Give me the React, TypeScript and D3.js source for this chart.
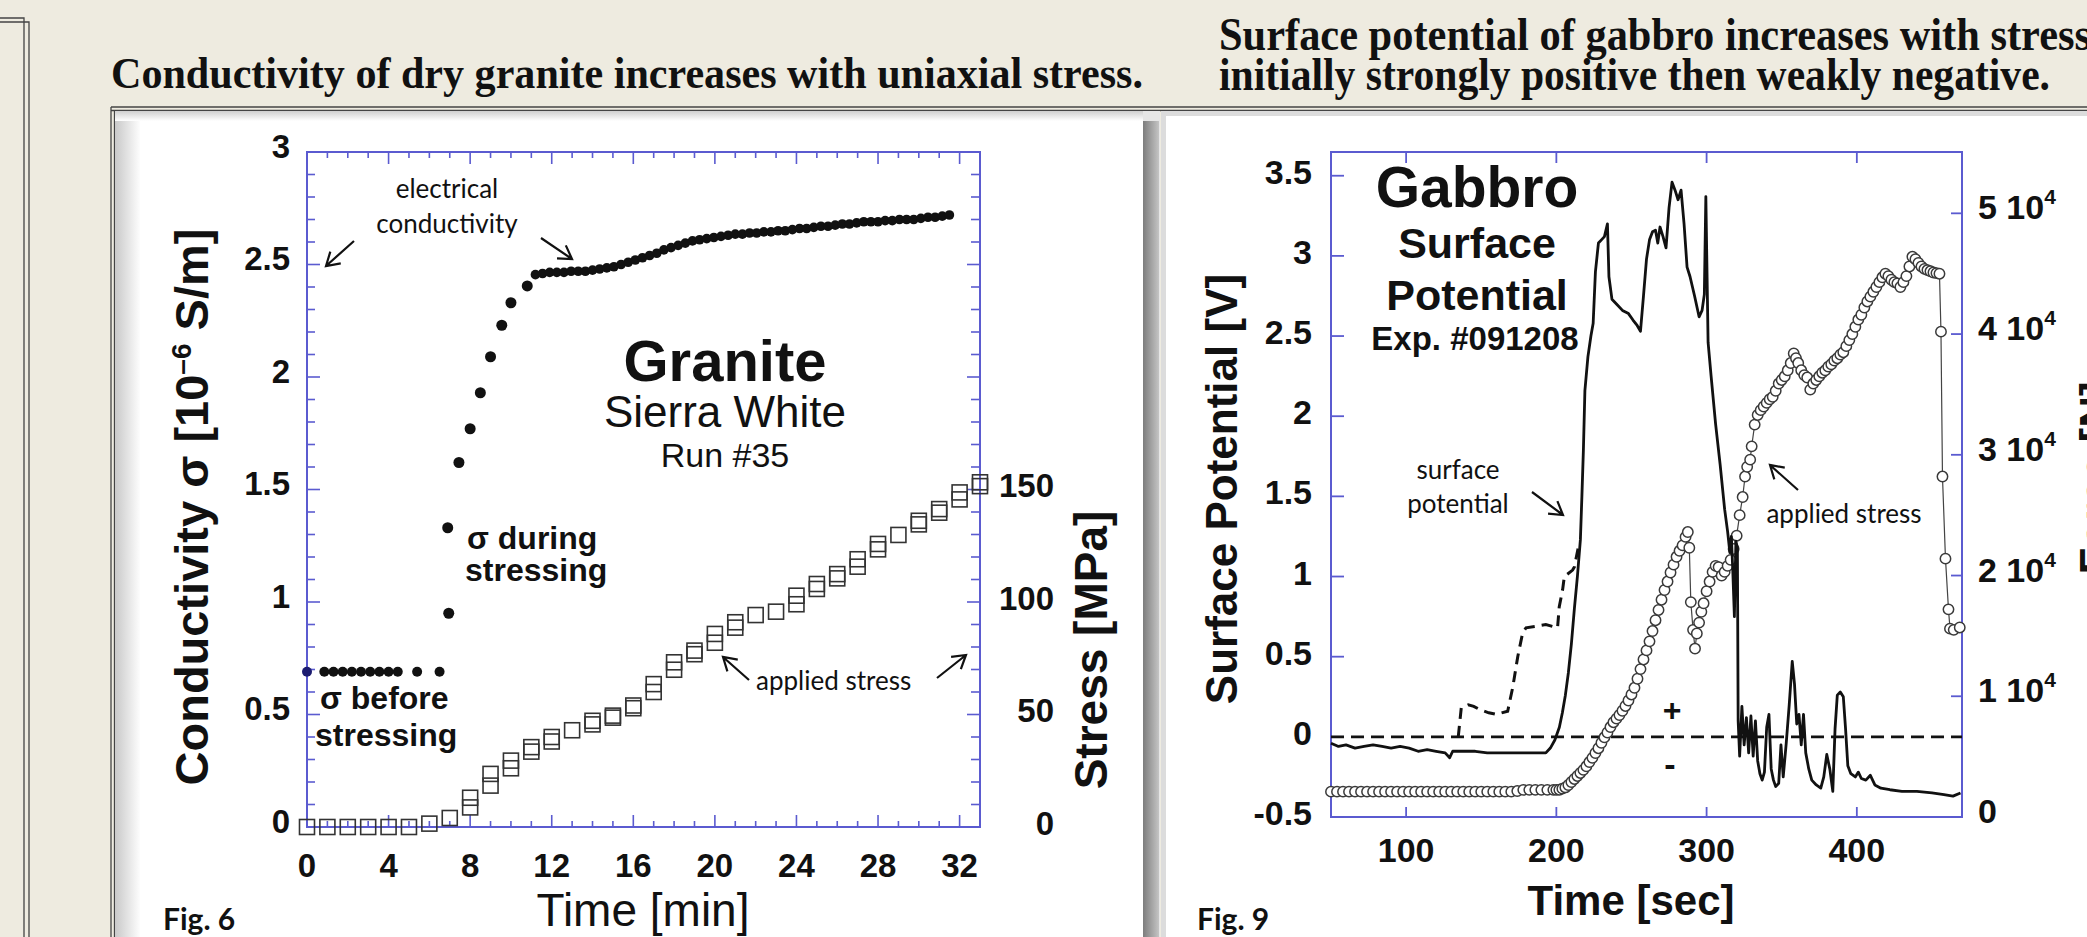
import * as d3 from 'd3';
import React from 'react';

// ---------- Fig. 6 : granite (time in min, sigma in 1e-6 S/m, stress in MPa) ----------
const sigmaBefore: [number, number][] = [
  [0, 0.69], [0.85, 0.69], [1.3, 0.69], [1.75, 0.69], [2.2, 0.69], [2.65, 0.69],
  [3.1, 0.69], [3.55, 0.69], [4.0, 0.69], [4.45, 0.69], [5.4, 0.69], [6.5, 0.69],
];
const sigmaRise: [number, number][] = [
  [6.95, 0.95], [6.9, 1.33], [7.45, 1.62], [8.0, 1.77], [8.5, 1.93], [9.0, 2.09],
  [9.55, 2.23], [10.0, 2.33], [10.8, 2.405],
];
const sigmaPlateau: [number, number][] = [
  [11.2, 2.455], [11.55, 2.46], [11.9, 2.465], [12.25, 2.465], [12.6, 2.465], [12.95, 2.47],
  [13.3, 2.47], [13.65, 2.47], [14.0, 2.475], [14.35, 2.48], [14.7, 2.485], [15.05, 2.49],
  [15.4, 2.5], [15.75, 2.51], [16.1, 2.52], [16.45, 2.53], [16.8, 2.54], [17.15, 2.55],
  [17.5, 2.565], [17.85, 2.575], [18.2, 2.585], [18.55, 2.595], [18.9, 2.605], [19.25, 2.61],
  [19.6, 2.615], [19.95, 2.62], [20.3, 2.625], [20.65, 2.63], [21.0, 2.635], [21.35, 2.635],
  [21.7, 2.64], [22.05, 2.64], [22.4, 2.645], [22.75, 2.645], [23.1, 2.65], [23.45, 2.65],
  [23.8, 2.655], [24.15, 2.66], [24.5, 2.66], [24.85, 2.665], [25.2, 2.67], [25.55, 2.67],
  [25.9, 2.675], [26.25, 2.68], [26.6, 2.68], [26.95, 2.685], [27.3, 2.69], [27.65, 2.69],
  [28.0, 2.69], [28.35, 2.695], [28.7, 2.695], [29.05, 2.7], [29.4, 2.7], [29.75, 2.7],
  [30.1, 2.705], [30.45, 2.71], [30.8, 2.71], [31.15, 2.715], [31.5, 2.72],
];
const stressSquares: [number, number][] = [
  [0, 0], [1, 0], [2, 0], [3, 0], [4, 0], [5, 0], [6, 1.5], [7, 4],
  [8, 13], [8, 8.7], [9, 23.6], [9, 18.4], [10, 29.5], [10, 26.1], [11, 35.5], [11, 33.5],
  [12, 40], [12, 38], [13, 43], [14, 47.2], [14, 45.6], [15, 49.5], [15, 48.6],
  [16, 54], [16, 52.8], [17, 63.5], [17, 60], [18, 73.2], [18, 69.9], [19, 78.4], [19, 76.8],
  [20, 85.8], [20, 81.9], [21, 91], [21, 88.6], [22, 94.2], [23, 95.7], [24, 102.8], [24, 99],
  [25, 108], [25, 105.8], [26, 112.4], [26, 110.5], [27, 119], [27, 115.7], [28, 125.8], [28, 123.4],
  [29, 129.8], [30, 136.1], [30, 134.5], [31, 141.3], [31, 139.7], [32, 148.7], [32, 145.6],
  [33, 153.2], [33, 151.5],
];
const sigmaTicks = [0, 0.5, 1, 1.5, 2, 2.5, 3];
const minTicks = [0, 4, 8, 12, 16, 20, 24, 28, 32];
const mpaTicks = [0, 50, 100, 150];

// ---------- Fig. 9 : gabbro (time in s, potential in V, load) ----------
const potSolid: [number, number][] = [
  [50, -0.04], [55, -0.06], [60, -0.05], [66, -0.07], [72, -0.06], [78, -0.05], [84, -0.06],
  [90, -0.07], [96, -0.06], [102, -0.07], [108, -0.09], [114, -0.08], [120, -0.09], [126, -0.1],
  [129, -0.13], [131, -0.09], [138, -0.09], [146, -0.09], [154, -0.1], [162, -0.1], [170, -0.1],
  [178, -0.1], [186, -0.1], [193, -0.1], [196, -0.07], [199, -0.02], [202, 0.06], [204, 0.15],
  [206, 0.26], [208, 0.4], [210, 0.58], [212, 0.8], [214, 1.0], [216, 1.23], [217, 1.5],
  [218, 1.79], [219, 2.16], [221, 2.37], [223, 2.5], [224.5, 2.58], [226, 2.9], [228, 3.08],
  [230, 3.1], [232, 3.12], [234, 3.2], [235, 2.87], [237, 2.73], [240, 2.7], [244, 2.66],
  [248, 2.64], [251, 2.6], [253.5, 2.57], [256, 2.53], [258, 2.75], [260, 2.98], [262, 3.1],
  [264, 3.15], [266, 3.16], [267.5, 3.08], [269, 3.18], [271, 3.12], [273, 3.05], [275, 3.3],
  [277, 3.46], [279, 3.41], [281, 3.35], [283, 3.41], [285, 3.2], [287, 2.93], [289, 2.87],
  [292, 2.75], [295, 2.62], [297, 2.66], [298.5, 2.76], [299.5, 3.37], [301, 2.46], [303, 2.25],
  [306, 1.95], [309, 1.7], [312, 1.42], [314, 1.28], [315.5, 1.15], [316.5, 1.25], [317.5, 1.02],
  [318.5, 0.75], [319.5, 1.22], [320.5, 1.18], [321, 0.1], [322, -0.12], [323.5, 0.19],
  [325, -0.05], [326.5, 0.12], [328, -0.1], [329.5, 0.13], [331, -0.12], [332.5, 0.1],
  [334, -0.15], [335.5, -0.23], [337, -0.27], [338.5, -0.22], [340, 0.06], [341.5, 0.14],
  [343, -0.2], [344.5, -0.27], [346, -0.31], [348, -0.29], [349.5, -0.05], [351, -0.25],
  [353, -0.04], [355, 0.2], [357, 0.47], [358.5, 0.33], [360, 0.08], [361.5, 0.14], [363, -0.05],
  [364.5, 0.14], [366, -0.1], [368, -0.2], [370, -0.27], [373, -0.3], [376, -0.32], [378, -0.25],
  [380, -0.11], [382, -0.2], [384, -0.34], [385.5, 0.05], [387, 0.26], [389, 0.28], [391, 0.25],
  [392.5, 0.05], [394, -0.18], [396, -0.23], [399, -0.25], [401, -0.22], [403, -0.26],
  [406, -0.27], [409, -0.24], [412, -0.3], [416, -0.32], [422, -0.33], [430, -0.34],
  [440, -0.34], [450, -0.35], [458, -0.36], [464, -0.37], [469, -0.35],
];
const potDashed: [number, number][] = [
  [134.7, 0.0], [136.7, 0.18], [141.4, 0.2], [145, 0.19], [149, 0.17], [155, 0.15], [160, 0.14],
  [167.6, 0.16], [171, 0.31], [174.3, 0.5], [177.6, 0.65], [179.8, 0.68], [186.5, 0.69],
  [193, 0.7], [200.8, 0.68], [201.9, 0.81], [204.2, 0.92], [205.3, 1.0], [210.8, 1.04],
  [212, 1.06], [215, 1.2],
];
const loadCircles: [number, number][] = [
  [50, 2100], [54, 2100], [58, 2100], [62, 2100], [66, 2100], [70, 2100], [74, 2100], [78, 2100],
  [82, 2100], [86, 2100], [90, 2100], [94, 2100], [98, 2100], [102, 2100], [106, 2100],
  [110, 2100], [114, 2100], [118, 2100], [122, 2100], [126, 2100], [130, 2100], [134, 2100],
  [138, 2100], [142, 2100], [146, 2100], [150, 2100], [154, 2100], [158, 2100], [162, 2100],
  [166, 2100], [170, 2100], [174, 2150], [178, 2250], [182, 2250], [186, 2250], [190, 2250],
  [194, 2250], [198, 2250], [200, 2250], [202, 2260], [204, 2350], [206, 2450], [208, 2650],
  [210, 2900], [212, 3150], [214, 3400], [216, 3650], [218, 3900], [220, 4200], [222, 4550],
  [224, 4900], [226, 5300], [228, 5700], [230, 6150], [232, 6600], [234, 7000], [236, 7450],
  [238, 7850], [240, 8150], [242, 8450], [244, 8800], [246, 9200], [248, 9650], [250, 10150],
  [252, 10700], [254, 11450], [256, 12250], [258, 13050], [260, 13800], [262, 14550],
  [264, 15400], [266, 16300], [268, 17150], [270, 18000], [272, 18800], [274, 19500],
  [276, 20250], [278, 20900], [280, 21550], [282, 22050], [284, 22500], [286, 23200],
  [287.5, 23600], [288.5, 22300], [289.5, 17800], [291, 15500], [292.3, 13950], [293.5, 15200],
  [295, 16100], [296.5, 17000], [298, 17700], [300, 18700], [302, 19500], [304, 20300],
  [306, 20800], [308, 20700], [310, 20000], [312, 20300], [314, 20800], [316, 21300],
  [318, 22200], [320, 23300], [322, 25000], [324, 26500], [325.6, 28200], [327, 29000],
  [329, 29600], [330, 30700], [332, 32500], [334, 33300], [336, 33700], [338, 34000],
  [340, 34300], [342, 34600], [344, 34800], [346, 35300], [348, 35900], [350, 36200],
  [352, 36500], [354, 37000], [356, 37600], [358, 38400], [359.5, 38000], [361, 37600],
  [363, 37000], [365, 36600], [367, 36400], [369, 35400], [371, 35900], [373, 36200],
  [375, 36500], [377, 36800], [379, 37000], [381, 37300], [383, 37500], [385, 37800],
  [387, 38000], [389, 38300], [391, 38500], [393, 39000], [395, 39500], [397, 40000],
  [399, 40600], [401, 41200], [403, 41600], [405, 42200], [407, 42700], [409, 43100],
  [411, 43500], [413, 43900], [415, 44300], [417, 44700], [419, 45000], [421, 44800],
  [423, 44500], [425, 44300], [427, 44200], [429, 43900], [431, 44300], [433, 44800],
  [435, 45600], [437, 46400], [439, 46200], [441, 45900], [443, 45600], [445, 45400],
  [447, 45300], [449, 45200], [451, 45100], [453, 45050], [455, 45000], [456, 40200],
  [457, 28200], [459, 21400], [461, 17200], [462, 15600], [464.5, 15500], [468.5, 15700],
];
const voltTicks = [-0.5, 0, 0.5, 1, 1.5, 2, 2.5, 3, 3.5];
const secTicks = [100, 200, 300, 400];
const loadTicks = [0, 1, 2, 3, 4, 5];

const BLUE = '#5b5bd0';
const SANS = '"Liberation Sans", Arial, sans-serif';
const SERIF = '"Liberation Serif", "Times New Roman", serif';
const NOTE = 'Lato, "Open Sans", sans-serif';

function arrow(x1: number, y1: number, x2: number, y2: number) {
  const a = Math.atan2(y2 - y1, x2 - x1);
  const L = 15;
  const w1 = [x2 - L * Math.cos(a - 0.55), y2 - L * Math.sin(a - 0.55)];
  const w2 = [x2 - L * Math.cos(a + 0.55), y2 - L * Math.sin(a + 0.55)];
  return `M${x1},${y1}L${x2},${y2}M${w1[0]},${w1[1]}L${x2},${y2}L${w2[0]},${w2[1]}`;
}

function Granite() {
  const x = d3.scaleLinear().domain([0, 33]).range([307, 980]);
  const y = d3.scaleLinear().domain([0, 3]).range([827, 152]);
  const s = d3.scaleLinear().domain([0, 300]).range([827, 152]);
  const [x0, x1] = x.range();
  const [yb, yt] = y.range();
  const minutes = d3.range(0, 34, 1);
  const tenths = d3.range(0, 3.001, 0.1);
  const tens = d3.range(0, 301, 10);

  return (
    <g>
      {/* frame + ticks */}
      <rect x={x0} y={yt} width={x1 - x0} height={yb - yt} fill="none" stroke={BLUE} strokeWidth={2} />
      {minutes.map(m => {
        const len = m % 4 === 0 ? 12 : 6;
        return (
          <g key={'m' + m} stroke={BLUE} strokeWidth={1.6}>
            <line x1={x(m)} x2={x(m)} y1={yb} y2={yb - len} />
            <line x1={x(m)} x2={x(m)} y1={yt} y2={yt + len} />
          </g>
        );
      })}
      {tenths.map((v, i) => (
        <line key={'t' + i} x1={x0} x2={x0 + (i % 5 === 0 ? 13 : 8)} y1={y(v)} y2={y(v)} stroke={BLUE} strokeWidth={1.6} />
      ))}
      {tens.map(v => (
        <line key={'r' + v} x1={x1} x2={x1 - (v % 50 === 0 ? 13 : 9)} y1={s(v)} y2={s(v)} stroke={BLUE} strokeWidth={1.6} />
      ))}

      {/* tick labels */}
      <g fontFamily={SANS} fontWeight="bold" fontSize={33} fill="#111">
        {sigmaTicks.map(v => (
          <text key={'yl' + v} x={290} y={y(v) + 5.5} textAnchor="end">{v}</text>
        ))}
        {minTicks.map(v => (
          <text key={'xl' + v} x={x(v)} y={877} textAnchor="middle">{v}</text>
        ))}
        {mpaTicks.map(v => (
          <text key={'sl' + v} x={1054} y={s(v) + 7.5} textAnchor="end">{v}</text>
        ))}
      </g>

      {/* axis titles */}
      <text transform="translate(208,507) rotate(-90)" textAnchor="middle" fontFamily={SANS} fontWeight="bold" fontSize={47} fill="#111">
        Conductivity σ [10<tspan dy={-17} fontSize={28}>–6</tspan><tspan dy={17}> S/m]</tspan>
      </text>
      <text transform="translate(1107,650) rotate(-90)" textAnchor="middle" fontFamily={SANS} fontWeight="bold" fontSize={46} fill="#111">
        Stress [MPa]
      </text>
      <text x={643} y={926} textAnchor="middle" fontFamily={SANS} fontSize={46} fill="#111">Time [min]</text>
      <text x={163} y={930} fontFamily={NOTE} fontWeight="bold" fontSize={30} fill="#111">Fig. 6</text>

      {/* applied stress squares */}
      {stressSquares.map(([t, v], i) => (
        <rect key={'sq' + i} x={x(t) - 7.5} y={s(v) - 7.5} width={15} height={15} fill="none" stroke="#333" strokeWidth={1.6} />
      ))}

      {/* conductivity points */}
      {sigmaBefore.map(([t, v], i) => (
        <circle key={'b' + i} cx={x(t)} cy={y(v)} r={5} fill={i === 0 ? '#1c1c70' : '#111'} />
      ))}
      {sigmaRise.map(([t, v], i) => (
        <circle key={'u' + i} cx={x(t)} cy={y(v)} r={5.5} fill="#111" />
      ))}
      {sigmaPlateau.map(([t, v], i) => (
        <circle key={'p' + i} cx={x(t)} cy={y(v)} r={4.8} fill="#111" />
      ))}

      {/* annotations */}
      <g fontFamily={SANS} fill="#111" textAnchor="middle">
        <text x={725} y={381} fontSize={58} fontWeight="bold">Granite</text>
        <text x={725} y={427} fontSize={44}>Sierra White</text>
        <text x={725} y={467} fontSize={34}>Run #35</text>
      </g>
      <g fontFamily={SANS} fontWeight="bold" fontSize={32} fill="#111">
        <text x={467} y={549}>σ during</text>
        <text x={465} y={581}>stressing</text>
        <text x={320} y={709}>σ before</text>
        <text x={315} y={746}>stressing</text>
      </g>
      <g fontFamily={NOTE} fontSize={26} fill="#111" textAnchor="middle">
        <text x={447} y={198}>electrical</text>
        <text x={447} y={233}>conductivity</text>
      </g>
      <text x={756} y={690} fontFamily={NOTE} fontSize={26} fill="#111">applied stress</text>
      <g stroke="#111" strokeWidth={2.2} fill="none">
        <path d={arrow(354, 241, 326, 266)} />
        <path d={arrow(541, 238, 572, 259)} />
        <path d={arrow(749, 680, 723, 657)} />
        <path d={arrow(937, 678, 966, 655)} />
      </g>
    </g>
  );
}

function Gabbro() {
  const x = d3.scaleLinear().domain([50, 470]).range([1331, 1962]);
  const y = d3.scaleLinear().domain([-0.5, 3.648]).range([817, 152]);
  const s = d3.scaleLinear().domain([0, 55080]).range([817, 152]);
  const [x0, x1] = x.range();
  const [yb, yt] = y.range();
  const line = d3.line<[number, number]>().x(d => x(d[0])).y(d => y(d[1]));
  const loadLine = d3.line<[number, number]>().x(d => x(d[0])).y(d => s(d[1]));

  return (
    <g>
      <rect x={x0} y={yt} width={x1 - x0} height={yb - yt} fill="none" stroke={BLUE} strokeWidth={2} />
      {secTicks.map(t => (
        <g key={'st' + t} stroke={BLUE} strokeWidth={1.8}>
          <line x1={x(t)} x2={x(t)} y1={yb} y2={yb - 10} />
          <line x1={x(t)} x2={x(t)} y1={yt} y2={yt + 11} />
        </g>
      ))}
      {voltTicks.map(v => (
        <line key={'vt' + v} x1={x0} x2={x0 + 13} y1={y(v)} y2={y(v)} stroke={BLUE} strokeWidth={1.8} />
      ))}
      {loadTicks.map(v => (
        <line key={'lt' + v} x1={x1} x2={x1 - 11} y1={s(v * 1e4)} y2={s(v * 1e4)} stroke={BLUE} strokeWidth={1.8} />
      ))}

      <g fontFamily={SANS} fontWeight="bold" fontSize={34} fill="#111">
        {voltTicks.map(v => (
          <text key={'vl' + v} x={1312} y={y(v) + 8} textAnchor="end">{v}</text>
        ))}
        {secTicks.map(t => (
          <text key={'sl' + t} x={x(t)} y={862} textAnchor="middle">{t}</text>
        ))}
        {loadTicks.map(v => (
          <text key={'ll' + v} x={1978} y={s(v * 1e4) + 6}>
            {v === 0 ? '0' : `${v} 10`}
            {v !== 0 && <tspan dy={-15} fontSize={21}>4</tspan>}
          </text>
        ))}
      </g>

      <text transform="translate(1237,489) rotate(-90)" textAnchor="middle" fontFamily={SANS} fontWeight="bold" fontSize={44} fill="#111">
        Surface Potential [V]
      </text>
      <text transform="translate(2111,478) rotate(-90)" textAnchor="middle" fontFamily={SANS} fontWeight="bold" fontSize={44} fill="#111">
        Force [N]
      </text>
      <text x={1631} y={915} textAnchor="middle" fontFamily={SANS} fontWeight="bold" fontSize={42} fill="#111">Time [sec]</text>
      <text x={1197} y={930} fontFamily={NOTE} fontWeight="bold" fontSize={30} fill="#111">Fig. 9</text>

      {/* zero reference */}
      <line x1={x0} x2={x1} y1={y(0)} y2={y(0)} stroke="#111" strokeWidth={2.6} strokeDasharray="13 7" />

      {/* applied stress (right axis) */}
      <path d={loadLine(loadCircles) || ''} fill="none" stroke="#444" strokeWidth={1.2} />
      {loadCircles.map(([t, v], i) => (
        <circle key={'lc' + i} cx={x(t)} cy={s(v)} r={5.2} fill="#fff" stroke="#3a3a3a" strokeWidth={1.5} />
      ))}

      {/* surface potential */}
      <path d={line(potDashed) || ''} fill="none" stroke="#111" strokeWidth={3} strokeDasharray="11 7" />
      <path d={line(potSolid) || ''} fill="none" stroke="#111" strokeWidth={2.8} strokeLinejoin="round" />

      {/* annotations */}
      <g fontFamily={SANS} fontWeight="bold" fill="#111" textAnchor="middle">
        <text x={1477} y={207} fontSize={57}>Gabbro</text>
        <text x={1477} y={258} fontSize={43}>Surface</text>
        <text x={1477} y={310} fontSize={43}>Potential</text>
        <text x={1475} y={350} fontSize={33}>Exp. #091208</text>
        <text x={1672} y={721} fontSize={32}>+</text>
        <text x={1670} y={776} fontSize={34}>-</text>
      </g>
      <g fontFamily={NOTE} fontSize={26} fill="#111" textAnchor="middle">
        <text x={1458} y={479}>surface</text>
        <text x={1458} y={513}>potential</text>
        <text x={1844} y={523}>applied stress</text>
      </g>
      <g stroke="#111" strokeWidth={2.2} fill="none">
        <path d={arrow(1532, 492, 1563, 515)} />
        <path d={arrow(1798, 490, 1770, 465)} />
      </g>
    </g>
  );
}

export default function App() {
  return (
    <div style={{ position: 'fixed', left: 0, top: 0 }}>
      <svg width={2087} height={937} viewBox="0 0 2087 937" style={{ display: 'block' }}>
        <defs>
          <linearGradient id="shadeL" x1="0" x2="1" y1="0" y2="0">
            <stop offset="0" stopColor="#c9c9c9" />
            <stop offset="1" stopColor="#ffffff" />
          </linearGradient>
          <linearGradient id="shadeT" x1="0" x2="0" y1="0" y2="1">
            <stop offset="0" stopColor="#cfcfcf" />
            <stop offset="1" stopColor="#ffffff" />
          </linearGradient>
          <linearGradient id="shadeR" x1="0" x2="1" y1="0" y2="0">
            <stop offset="0" stopColor="#7d7d7d" />
            <stop offset="1" stopColor="#c4c4c4" />
          </linearGradient>
        </defs>
        <rect width={2087} height={937} fill="#eeebe0" />

        {/* outer page frame */}
        <g stroke="#444" strokeWidth={1.3} fill="none">
          <path d="M0,18H24V937" />
          <path d="M0,22H29V937" />
          <line x1={111} x2={2087} y1={107} y2={107} />
          <line x1={111} x2={2087} y1={110.5} y2={110.5} />
          <line x1={111} x2={111} y1={107} y2={937} />
          <line x1={114.5} x2={114.5} y1={110.5} y2={937} />
        </g>

        {/* left card */}
        <rect x={115} y={111} width={1045} height={826} fill="#e6e6e6" />
        <rect x={115} y={111} width={26} height={826} fill="url(#shadeL)" />
        <rect x={115} y={111} width={1028} height={10} fill="url(#shadeT)" />
        <rect x={140} y={121} width={1003} height={816} fill="#fff" />
        <rect x={1143} y={121} width={16} height={816} fill="url(#shadeR)" />
        {/* right card */}
        <rect x={1161} y={111} width={926} height={826} fill="#dcdcdc" />
        <rect x={1166} y={116} width={921} height={821} fill="#fff" />

        {/* slide titles */}
        <g fontFamily={SERIF} fontWeight="bold" fill="#111" xmlSpace="preserve" style={{ whiteSpace: 'pre' }}>
          <text x={111} y={88} fontSize={45} textLength={1032} lengthAdjust="spacingAndGlyphs">
            {'Conductivity of  dry granite increases with uniaxial stress.'}
          </text>
          <text x={1219} y={50} fontSize={46} textLength={872} lengthAdjust="spacingAndGlyphs">
            {'Surface potential  of gabbro increases with stress'}
          </text>
          <text x={1219} y={90} fontSize={46} textLength={831} lengthAdjust="spacingAndGlyphs">
            {'initially strongly positive then weakly negative.'}
          </text>
        </g>

        <Granite />
        <Gabbro />
      </svg>
    </div>
  );
}
